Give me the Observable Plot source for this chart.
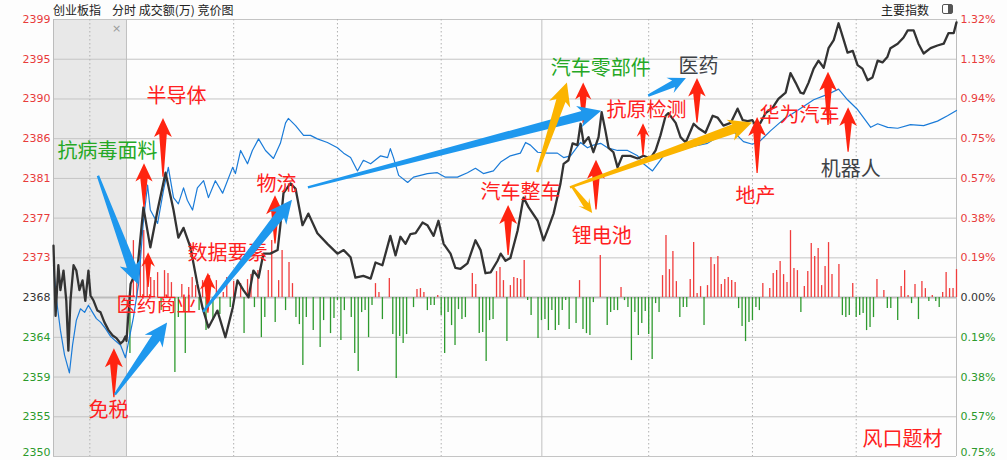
<!DOCTYPE html>
<html><head><meta charset="utf-8">
<script src="https://cdn.jsdelivr.net/npm/d3@7"></script>
<script src="https://cdn.jsdelivr.net/npm/@observablehq/plot@0.6"></script>
<style>
html,body{margin:0;padding:0;background:#fdfdfd;}
#wrap{position:relative;width:1007px;height:460px;overflow:hidden;background:#fdfdfd;}
#wrap svg{position:absolute;left:0;top:0;}
.hd{position:absolute;top:1px;font-family:"Noto Sans CJK SC",sans-serif;font-size:12px;line-height:17px;color:#222;white-space:pre;}
</style></head>
<body><div id="wrap"></div>
<script>
// ---------- data ----------
const prevClose = 2368.06;          // 0.00% level
const stepPct = 0.1886;             // percent between grid levels
const tickSteps = [7,6,5,4,3,2,1,0,-1,-2,-3,-4];
const leftTickLabels = ["2399","2395","2390","2386","2381","2377","2373","2368","2364","2359","2355","2350"];
const rightTickLabels = ["1.32%","1.13%","0.94%","0.75%","0.57%","0.38%","0.19%","0.00%","0.19%","0.38%","0.57%","0.75%"];
const xStart = -21.1, xEnd = 240;   // minutes relative to 09:30 (auction 09:15-09:25 on the left)
const dottedMinutes = [-10.6, 31, 61, 91, 151, 181, 211];
const solidMinutes = [0, 120.1];

// auction (竞价) index line and equal-weight line: [minute, price]
const auctionIndex = [[-21.1,2373.9],[-20.5,2366.0],[-19.7,2371.7],[-19.1,2368.9],[-18.2,2371.1],[-17.4,2367.7],[-16.8,2362.1],[-16.2,2367.7],[-15.3,2371.7],[-14.5,2371.1],[-13.6,2368.9],[-12.7,2370.0],[-11.9,2367.7],[-11.0,2371.1],[-10.4,2368.3],[-9.5,2367.7],[-8.4,2366.6],[-7.5,2366.4],[-6.4,2365.3],[-5.2,2364.4],[-4.0,2363.8],[-2.9,2363.5],[-1.7,2362.9],[-0.9,2363.2],[-0.3,2363.7]];
const auctionAvg = [[-21.1,2371.7],[-20.2,2367.7],[-19.1,2364.4],[-17.9,2361.6],[-16.5,2359.6],[-15.6,2362.7],[-14.5,2365.5],[-13.3,2366.8],[-12.1,2366.4],[-11.0,2367.2],[-9.8,2366.4],[-8.7,2365.7],[-7.5,2365.3],[-6.1,2364.6],[-4.6,2363.7],[-3.2,2363.2],[-1.7,2362.7],[-0.3,2361.3]];

// trading session: index (black) [minute, price]
const tradeIndex = [[0,2363.2],[1.2,2369.6],[3.2,2371.4],[4.9,2378.2],[6.9,2373.7],[9.0,2377.9],[11.3,2382.1],[13.6,2377.9],[15.0,2374.8],[16.5,2375.9],[18.5,2373.7],[20.5,2369.6],[22.0,2366.9],[23.7,2364.7],[26.3,2366.6],[28.6,2363.6],[30.7,2366.9],[32.1,2370.0],[33.8,2368.9],[35.3,2368.1],[36.7,2371.1],[38.2,2370.3],[39.6,2373.0],[41.6,2373.0],[43.7,2373.4],[44.5,2376.2],[45.4,2379.8],[47.4,2380.9],[48.9,2380.3],[50.9,2376.2],[52.6,2377.5],[55.2,2375.3],[58.1,2374.1],[61.0,2373.0],[62.8,2373.4],[64.8,2372.6],[66.2,2370.3],[68.5,2370.5],[70.6,2370.2],[72.0,2372.0],[74.0,2371.7],[76.3,2375.0],[77.8,2372.8],[79.2,2374.9],[80.7,2374.1],[82.1,2375.2],[83.6,2375.3],[85.6,2376.5],[87.0,2376.2],[88.8,2375.0],[90.2,2376.7],[91.7,2374.1],[93.7,2373.0],[95.1,2371.4],[96.6,2371.3],[98.6,2371.9],[100.9,2374.5],[102.4,2373.4],[103.8,2370.8],[105.3,2370.9],[107.3,2372.2],[108.2,2373.0],[109.6,2372.2],[111.0,2372.5],[113.1,2375.6],[114.8,2379.3],[116.3,2378.2],[118.9,2376.7],[120.6,2374.5],[122.0,2375.9],[123.5,2377.5],[125.5,2380.9],[126.4,2383.1],[127.8,2383.5],[129.0,2385.4],[130.4,2385.2],[131.3,2387.6],[132.2,2385.4],[133.6,2386.1],[135.0,2384.4],[136.5,2386.1],[137.4,2388.9],[138.5,2386.8],[139.4,2384.9],[140.8,2384.4],[142.0,2382.7],[143.4,2384.0],[145.7,2384.0],[147.8,2383.7],[149.5,2384.0],[151.5,2383.7],[153.0,2384.6],[154.4,2386.3],[155.9,2388.5],[156.7,2388.8],[158.8,2387.7],[160.2,2386.1],[161.7,2385.5],[164.0,2387.6],[165.4,2387.1],[167.4,2386.6],[169.5,2388.5],[170.9,2388.3],[172.6,2387.4],[174.7,2387.7],[176.7,2389.3],[178.2,2388.0],[179.6,2387.9],[181.0,2388.0],[181.9,2387.4],[183.3,2387.7],[184.8,2388.8],[186.8,2389.4],[188.5,2390.4],[190.6,2391.1],[192.0,2393.3],[193.5,2392.2],[194.9,2391.1],[195.8,2391.0],[197.2,2392.2],[198.7,2393.8],[200.1,2394.7],[201.6,2393.9],[203.0,2396.1],[204.5,2397.0],[205.9,2398.9],[207.4,2397.0],[208.5,2395.6],[210.0,2395.8],[211.4,2394.2],[212.8,2393.8],[214.3,2392.5],[215.7,2392.8],[217.2,2394.7],[218.6,2394.5],[220.0,2395.1],[220.9,2396.1],[223.0,2396.6],[224.7,2397.3],[225.9,2398.1],[227.6,2398.1],[229.0,2396.6],[230.5,2395.5],[232.5,2396.1],[234.5,2396.4],[236.3,2396.6],[237.7,2397.8],[239.2,2397.8],[240.0,2399.0]];

// trading session: equal-weight line (blue) [minute, price]
const tradeAvg = [[0,2361.9],[2.0,2365.8],[3.5,2369.6],[4.9,2376.7],[6.1,2380.7],[6.9,2377.9],[9.0,2376.4],[10.7,2380.1],[12.1,2382.7],[13.6,2379.3],[15.0,2378.6],[16.5,2380.4],[17.6,2379.0],[19.1,2377.9],[20.5,2380.4],[22.3,2381.2],[23.7,2379.3],[25.7,2381.2],[27.8,2379.8],[30.7,2382.7],[31.5,2382.0],[33.0,2384.6],[35.0,2383.1],[36.4,2384.6],[38.2,2385.9],[40.2,2384.6],[42.5,2383.7],[44.5,2385.4],[46.0,2387.7],[46.8,2388.2],[48.9,2387.4],[51.2,2386.3],[53.2,2386.3],[55.2,2385.9],[58.1,2385.5],[61.0,2384.9],[62.8,2384.3],[64.8,2383.8],[66.8,2382.3],[68.5,2383.5],[70.6,2383.1],[73.5,2384.0],[75.5,2383.8],[76.3,2384.8],[77.2,2383.8],[78.7,2381.8],[81.3,2381.0],[83.0,2381.6],[87.0,2382.0],[89.9,2382.1],[92.2,2381.6],[95.7,2381.6],[98.6,2382.1],[100.9,2382.6],[103.2,2382.0],[106.1,2382.3],[108.2,2383.3],[111.0,2384.0],[113.9,2384.3],[115.4,2385.5],[116.8,2385.2],[118.9,2384.4],[121.7,2384.3],[124.6,2384.3],[126.4,2383.8],[128.4,2384.0],[131.3,2385.5],[133.3,2384.9],[135.0,2385.2],[137.1,2385.4],[139.1,2384.9],[142.0,2384.6],[144.9,2384.6],[147.8,2384.0],[149.5,2383.1],[152.1,2382.3],[153.6,2383.1],[155.3,2384.0],[157.3,2384.3],[160.2,2384.6],[163.1,2385.0],[168.0,2385.4],[171.8,2386.3],[175.3,2386.8],[178.4,2385.6],[181.0,2385.3],[183.3,2385.7],[186.2,2386.8],[190.0,2388.1],[194.0,2389.1],[198.7,2390.3],[202.7,2390.9],[205.9,2391.5],[208.5,2390.3],[211.4,2389.2],[215.2,2387.2],[217.2,2387.6],[220.1,2387.2],[223.0,2387.1],[226.7,2387.5],[230.5,2387.4],[234.5,2387.9],[237.4,2388.5],[240.0,2389.1]];

// 成交额 bars: [minute, signed amount]  (+ red / - green)
const volumeBars = [[1,-56],[2,57],[3,30],[4,47],[5,67],[6,30],[7,20],[8,17],[9,25],[10,-13],[11,27],[12,24],[13,15],[14,-75],[15,-20],[16,13],[17,-56],[18,10],[19,20],[20,12],[21,-13],[22,17],[23,-33],[24,22],[25,-23],[26,17],[27,-17],[28,5],[29,20],[30,-10],[31,16],[33,14],[34,-36],[35,18],[36,23],[37,-10],[38,27],[39,-40],[40,-20],[41,27],[42,57],[43,-25],[44,17],[45,47],[46,-13],[47,35],[48,14],[49,-20],[50,-27],[51,-68],[52,-20],[54,-33],[56,-50],[57,-23],[59,-36],[60,-21],[61,-3],[62,-43],[63,-13],[65,-20],[66,-56],[67,-74],[68,-15],[69,-13],[70,-40],[71,-8],[72,14],[73,5],[74,-22],[76,19],[77,-37],[78,-81],[79,-39],[80,-46],[81,-37],[83,-10],[84,8],[85,9],[86,5],[87,-13],[88,-8],[89,-8],[90,2],[91,-18],[92,-56],[93,-15],[94,-28],[95,-48],[96,-12],[97,-22],[98,-20],[100,24],[101,13],[102,-36],[103,-35],[104,-64],[105,-23],[106,-22],[107,26],[108,30],[109,17],[110,-44],[111,12],[112,20],[113,19],[114,18],[115,37],[116,-3],[117,-18],[119,-41],[120,-23],[121,-22],[122,-33],[123,-13],[124,-33],[125,-28],[126,-13],[127,-3],[128,-32],[130,-26],[131,17],[132,-32],[133,-36],[134,-38],[135,-5],[137,42],[139,-28],[140,-15],[141,-13],[142,-13],[143,10],[144,-3],[145,-10],[146,-63],[147,-15],[148,-38],[149,-26],[150,-14],[151,-37],[152,-62],[153,-6],[154,-15],[155,22],[156,62],[157,28],[158,46],[159,16],[160,-20],[161,-10],[162,-10],[163,18],[164,55],[165,4],[166,11],[167,-28],[168,12],[169,40],[170,33],[171,41],[172,13],[173,18],[174,20],[175,17],[176,15],[177,-11],[178,-29],[179,-44],[180,-25],[181,-23],[182,-10],[183,-13],[184,14],[186,9],[187,24],[188,27],[189,36],[190,23],[191,15],[192,67],[193,29],[194,27],[195,-15],[196,11],[197,26],[198,54],[199,41],[200,49],[201,12],[202,31],[203,55],[204,23],[206,33],[207,-18],[208,-20],[209,-18],[210,14],[211,-20],[212,-18],[213,-16],[214,-33],[215,-30],[216,-20],[217,18],[219,7],[220,-11],[221,-11],[223,-23],[224,11],[225,27],[226,2],[227,-6],[228,13],[229,-22],[230,16],[231,9],[232,-4],[233,2],[234,-4],[235,-10],[236,5],[237,25],[238,9],[239,9],[240,28]];
const volUnit = 0.1124;  // price-axis points per amount unit

// topic annotations: [text, minute, price, kind]
const topics = [["半导体",14.5,2390.7,"hot"],["抗病毒面料",-5.5,2384.5,"green"],["物流",43.4,2380.8,"hot"],["数据要素",29.2,2373.0,"hot"],["医药商业",8.7,2367.2,"hot"],["免税",-5.2,2355.4,"hot"],["汽车零部件",137.1,2393.8,"green"],["医药",165.4,2394.0,"gray"],["抗原检测",150.4,2389.1,"hot"],["华为汽车",194.6,2388.5,"hot"],["机器人",209.4,2382.5,"gray"],["地产",181.9,2379.4,"hot"],["汽车整车",113.9,2379.9,"hot"],["锂电池",137.4,2374.9,"hot"],["风口题材",224.4,2352.1,"hot"]];
// red up-arrows: [minute, from price, to price]
const upArrows = [[10.7,2381.6,2388.2],[5.2,2378.2,2383.1],[6.4,2369.2,2373.1],[23.7,2366.3,2370.8],[43.1,2374.1,2379.5],[-3.5,2356.8,2362.3],[110.5,2372.8,2378.4],[132.2,2387.6,2392.2],[149.5,2384.0,2387.6],[135.9,2377.9,2383.5],[165.1,2387.7,2392.7],[182.5,2382.0,2388.3],[203.0,2387.4,2393.4],[208.8,2384.4,2389.4]];
// blue rotation arrows: [t0,p0,t1,p1]
const blueArrows = [[-8.1,2381.7,3.5,2369.5],[-3.2,2357.1,11.9,2365.2],[22.3,2366.4,48.0,2379.0],[52.6,2380.4,137.4,2389.0],[151.0,2390.7,161.9,2392.7]];
// gold arrows
const goldArrows = [[118.9,2382.1,127.5,2392.2],[128.4,2380.4,181.0,2387.7],[129.0,2380.5,134.8,2377.5]];

// ---------- chart ----------
const tickPrice = k => prevClose * (1 + k * stepPct / 100);
const yMin = tickPrice(-4), yMax = tickPrice(7);
const RED = "#e83b3b", GREEN = "#2b9a2b", DARK = "#333";
const lblIdx = k => tickSteps.indexOf(k);
const toObj = a => a.map(([t, p]) => ({t, p}));
const blackData = toObj(auctionIndex.concat(tradeIndex));
const blueData = toObj(auctionAvg.concat(tradeAvg));
const bars = volumeBars.map(([t, v]) => ({t, v}));
const topicObjs = topics.map(([text, t, p, kind]) => ({text, t, p, kind}));
const axisFont = "DejaVu Sans";
const cjk = "Noto Sans CJK SC";
const lowest = tickSteps[tickSteps.length - 1];

const tickText = (ks, opts) => Plot.text(ks, Object.assign({
  y: k => tickPrice(k), fontFamily: axisFont, fontSize: 11
}, opts));
// the lowest tick label sits on the bottom edge: anchor it by its bottom so it stays in view
const tickSide = (x, labels, anchor, dx) => [
  tickText(tickSteps.filter(k => k > 0), {x: () => x, text: k => labels[lblIdx(k)], textAnchor: anchor, dx, fill: RED}),
  tickText([0], {x: () => x, text: k => labels[lblIdx(k)], textAnchor: anchor, dx, fill: DARK}),
  tickText(tickSteps.filter(k => k < 0 && k !== lowest), {x: () => x, text: k => labels[lblIdx(k)], textAnchor: anchor, dx, fill: GREEN}),
  tickText([lowest], {x: () => x, text: k => labels[lblIdx(k)], textAnchor: anchor, dx, fill: GREEN, lineAnchor: "bottom", dy: -1})
];

const topicMark = (kind, fill) => Plot.text(topicObjs.filter(d => d.kind === kind), {
  x: "t", y: "p", text: "text", fill, fontFamily: cjk, fontSize: 20, ariaLabel: "topic-label"
});

const plot = Plot.plot({
  width: 1007, height: 460,
  marginLeft: 53, marginRight: 51, marginTop: 19, marginBottom: 4,
  x: {domain: [xStart, xEnd], axis: null},
  y: {domain: [yMin, yMax], axis: null},
  style: {background: "transparent", overflow: "visible"},
  marks: [
    Plot.rect([0], {x1: () => xStart, x2: () => 0, y1: () => yMin, y2: () => yMax, fill: "#e8e8e8"}),
    Plot.ruleY(tickSteps.filter(k => k !== 0), {y: k => tickPrice(k), stroke: "#c4c4c4", strokeWidth: 1}),
    Plot.ruleY([0], {y: () => prevClose, stroke: "#bcbcbc", strokeWidth: 2}),
    Plot.ruleX(dottedMinutes, {x: d => d, stroke: "#b0b0b0", strokeDasharray: "1.5,2.5"}),
    Plot.ruleX(solidMinutes, {x: d => d, stroke: "#c0c0c0"}),
    Plot.ruleX([xStart, xEnd], {x: d => d, stroke: "#bcbcbc"}),
    Plot.ruleX(bars.filter(d => d.v > 0), {x: "t", y1: () => prevClose, y2: d => prevClose + d.v * volUnit, stroke: "#f03c3c", strokeWidth: 1.3}),
    Plot.ruleX(bars.filter(d => d.v < 0), {x: "t", y1: () => prevClose, y2: d => prevClose + d.v * volUnit, stroke: "#2e9a2e", strokeWidth: 1.3}),
    Plot.line(blueData, {x: "t", y: "p", stroke: "#1a7bd8", strokeWidth: 1.2}),
    Plot.line(blackData, {x: "t", y: "p", stroke: "#333", strokeWidth: 2.3, strokeLinejoin: "round"}),
    ...tickSide(xStart, leftTickLabels, "end", -3),
    ...tickSide(xEnd, rightTickLabels, "start", 4),
    topicMark("hot", "#ff2020"),
    topicMark("green", "#25a825"),
    topicMark("gray", "#3e4246")
  ]
});

// ---------- arrows drawn through the plot's own scales ----------
function scaleFn(name) {
  const s = plot.scale(name);
  if (s && typeof s.apply === "function") return v => s.apply(v);
  return d3.scaleLinear(s.domain, s.range);
}
const sx = scaleFn("x"), sy = scaleFn("y");

function arrowPath(x0, y0, x1, y1, o) {
  const dx = x1 - x0, dy = y1 - y0, len = Math.hypot(dx, dy);
  const ux = dx / len, uy = dy / len, nx = -uy, ny = ux;
  const L = o.head, hw = o.hw, w1 = o.w1, w0 = o.w0, notch = o.notch;
  const bx = x1 - ux * L, by = y1 - uy * L;
  const qx = x1 - ux * (L - notch), qy = y1 - uy * (L - notch);
  const pts = [[x1, y1], [bx + nx * hw, by + ny * hw], [qx + nx * w1, qy + ny * w1], [x0 + nx * w0, y0 + ny * w0],
               [x0 - nx * w0, y0 - ny * w0], [qx - nx * w1, qy - ny * w1], [bx - nx * hw, by - ny * hw]];
  return "M" + pts.map(p => p[0].toFixed(1) + "," + p[1].toFixed(1)).join("L") + "Z";
}

const svgNS = "http://www.w3.org/2000/svg";
const g = document.createElementNS(svgNS, "g");
g.setAttribute("aria-label", "arrows");
const addPath = (d, fill) => {
  const p = document.createElementNS(svgNS, "path");
  p.setAttribute("d", d); p.setAttribute("fill", fill);
  g.appendChild(p);
};
for (const [t, p0, p1] of upArrows) {
  const x = sx(t), y0 = sy(p0), y1 = sy(p1), len = Math.abs(y0 - y1);
  const head = Math.min(19, len * 0.42);
  addPath(arrowPath(x, y0, x, y1, {head, hw: head * 0.47, w1: head * 0.2, w0: 0.6, notch: 3}), "#ff2410");
}
const diag = (arr, fill) => {
  for (const [t0, p0, t1, p1] of arr) {
    const x0 = sx(t0), y0 = sy(p0), x1 = sx(t1), y1 = sy(p1);
    const len = Math.hypot(x1 - x0, y1 - y0);
    const head = Math.min(23, len * 0.42);
    addPath(arrowPath(x0, y0, x1, y1, {head, hw: head * 0.48, w1: head * 0.21, w0: 1.2, notch: 4}), fill);
  }
};
diag(blueArrows, "#1e98ee");
diag(goldArrows, "#fbb400");

const firstLabel = plot.querySelector('g[aria-label="topic-label"]');
if (firstLabel && firstLabel.parentNode) firstLabel.parentNode.insertBefore(g, firstLabel);
else plot.appendChild(g);

// ---------- page ----------
const wrap = document.getElementById("wrap");
wrap.appendChild(plot);
function hd(text, left, extra) {
  const d = document.createElement("div");
  d.className = "hd"; d.textContent = text; d.style.left = left + "px";
  if (extra) Object.assign(d.style, extra);
  wrap.appendChild(d);
}
hd("创业板指", 53);
hd("分时 成交额(万) 竞价图", 112);
hd("主要指数", 881);
hd("×", 112, {top: "20px", color: "#9a9a9a", fontSize: "11px", fontFamily: "DejaVu Sans"});
const icon = document.createElement("div");
Object.assign(icon.style, {position: "absolute", left: "942px", top: "4px", width: "9px", height: "8px",
  border: "1.5px solid #555", borderRadius: "2px", background: "linear-gradient(to right, transparent 55%, #555 55%)"});
wrap.appendChild(icon);
</script>
</body></html>
